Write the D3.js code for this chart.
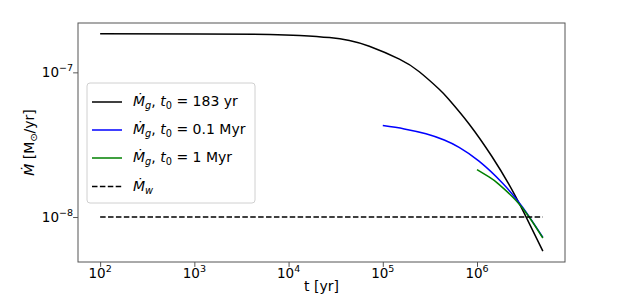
<!DOCTYPE html>
<html>
<head>
<meta charset="utf-8">
<script src="https://cdn.jsdelivr.net/npm/d3@7"></script>
<style>
body { margin: 0; background: #fff; }
svg { display: block; font-family: "DejaVu Sans", sans-serif; }
</style>
</head>
<body>
<svg id="chart" width="622" height="296"></svg>
<script>
// values (t in yr, Mdot in Msun/yr)
var tBlack = [1e2, 1.14e3, 6.28e3, 1.31e4, 2.72e4, 4.42e4, 7.19e4, 1.5e5, 2.44e5, 3.97e5, 5.06e5, 8.24e5, 1.44e6, 2.19e6, 3.15e6, 5e6];
var mBlack = [1.845e-7, 1.841e-7, 1.828e-7, 1.799e-7, 1.738e-7, 1.660e-7, 1.514e-7, 1.233e-7, 1.009e-7, 7.64e-8, 6.47e-8, 4.40e-8, 2.62e-8, 1.675e-8, 1.072e-8, 5.81e-9];
var tBlue = [1e5, 1.69e5, 2.87e5, 4.49e5, 6.46e5, 1.05e6, 1.86e6, 3.03e6, 5e6];
var mBlue = [4.285e-8, 4.064e-8, 3.758e-8, 3.404e-8, 3.027e-8, 2.432e-8, 1.718e-8, 1.175e-8, 7.23e-9];
var tGreen = [1e6, 1.34e6, 1.71e6, 2.58e6, 3.56e6, 5e6];
var mGreen = [2.128e-8, 1.892e-8, 1.683e-8, 1.306e-8, 1.005e-8, 7.16e-9];
var tWind = [1e2, 5e6];
var mWind = [1e-8, 1e-8];

var legendT0 = ['183 yr', '0.1 Myr', '1 Myr'];
var xMajor = [1e2, 1e3, 1e4, 1e5, 1e6];
var xExp = ['2', '3', '4', '5', '6'];
var yMajor = [1e-7, 1e-8];
var yExp = ['\u22127', '\u22128'];

var series = [
    { t: tBlack, m: mBlack, color: '#000000', dash: null },
    { t: tBlue, m: mBlue, color: '#0000ff', dash: null },
    { t: tGreen, m: mGreen, color: '#008000', dash: null },
    { t: tWind, m: mWind, color: '#000000', dash: '5.5,2.4' }
];

var plotL = 78, plotR = 565, plotT = 23, plotB = 262;
var svg = d3.select('#chart');

// 5% margins in log space, like matplotlib autoscale
function logPad(vals) {
    var lo = Math.log10(d3.min(vals)), hi = Math.log10(d3.max(vals));
    var pad = (hi - lo) * 0.05;
    return [Math.pow(10, lo - pad), Math.pow(10, hi + pad)];
}
var allT = [].concat(tBlack, tBlue, tGreen, tWind);
var allM = [].concat(mBlack, mBlue, mGreen, mWind);
var x = d3.scaleLog().domain(logPad(allT)).range([plotL, plotR]);
var y = d3.scaleLog().domain(logPad(allM)).range([plotB, plotT]);

function minorTicks(scale) {
    var d = scale.domain(), out = [];
    var k0 = Math.floor(Math.log10(d3.min(d))), k1 = Math.ceil(Math.log10(d3.max(d)));
    for (var k = k0; k <= k1; k++) {
        for (var j = 2; j <= 9; j++) {
            var v = j * Math.pow(10, k);
            if (v >= d3.min(d) && v <= d3.max(d)) out.push(v);
        }
    }
    return out;
}

svg.append('clipPath').attr('id', 'plotclip').append('rect')
    .attr('x', plotL).attr('y', plotT).attr('width', plotR - plotL).attr('height', plotB - plotT);

var line = d3.line()
    .x(function (d) { return x(d[0]); })
    .y(function (d) { return y(d[1]); })
    .curve(d3.curveNatural);

series.forEach(function (s) {
    var pts = s.t.map(function (t, i) { return [t, s.m[i]]; });
    svg.append('path')
        .attr('clip-path', 'url(#plotclip)')
        .attr('d', line(pts))
        .attr('fill', 'none')
        .attr('stroke', s.color)
        .attr('stroke-width', 1.5)
        .attr('stroke-dasharray', s.dash);
});

// axes
var gx = svg.append('g').attr('transform', 'translate(0,' + plotB + ')');
gx.call(d3.axisBottom(x).tickValues(minorTicks(x)).tickSize(2.8).tickFormat(''));
gx.call(d3.axisBottom(x).tickValues(xMajor).tickSize(4.9).tickFormat(''));
var gy = svg.append('g').attr('transform', 'translate(' + plotL + ',0)');
gy.call(d3.axisLeft(y).tickValues(minorTicks(y)).tickSize(2.8).tickFormat(''));
gy.call(d3.axisLeft(y).tickValues(yMajor).tickSize(4.9).tickFormat(''));
svg.selectAll('.domain').remove();
svg.selectAll('.tick line').attr('stroke', '#444').attr('stroke-width', 0.9);

xMajor.forEach(function (v, i) {
    var t = svg.append('text').attr('x', x(v)).attr('y', 278)
        .attr('text-anchor', 'middle').attr('font-size', 13.5).attr('fill', '#000');
    t.append('tspan').text('10');
    t.append('tspan').attr('font-size', 9.5).attr('dy', -6).text(xExp[i]);
});
yMajor.forEach(function (v, i) {
    var t = svg.append('text').attr('x', 73).attr('y', y(v) + 5)
        .attr('text-anchor', 'end').attr('font-size', 13.5).attr('fill', '#000');
    t.append('tspan').text('10');
    t.append('tspan').attr('font-size', 9.5).attr('dy', -6).text(yExp[i]);
});

// frame
svg.append('rect').attr('x', plotL).attr('y', plotT)
    .attr('width', plotR - plotL).attr('height', plotB - plotT)
    .attr('fill', 'none').attr('stroke', '#555').attr('stroke-width', 1);

// axis labels
svg.append('text').attr('x', (plotL + plotR) / 2).attr('y', 291)
    .attr('text-anchor', 'middle').attr('font-size', 14).text('t [yr]');
var yl = svg.append('text').attr('transform', 'translate(34,' + ((plotT + plotB) / 2) + ') rotate(-90)')
    .attr('text-anchor', 'middle').attr('font-size', 14);
yl.append('tspan').attr('font-style', 'italic').text('\u1E40');
yl.append('tspan').text(' [M');
yl.append('tspan').attr('font-size', 9.8).attr('dy', 3).text('\u2299');
yl.append('tspan').attr('dy', -3).text('/yr]');

// legend
var lg = svg.append('g');
lg.append('rect').attr('x', 87).attr('y', 83).attr('width', 168).attr('height', 120)
    .attr('rx', 3).attr('fill', '#fff').attr('fill-opacity', 0.8)
    .attr('stroke', '#d0d0d0').attr('stroke-width', 1);
var rowY = [102, 130, 158, 186.5];
series.forEach(function (s, i) {
    lg.append('line').attr('x1', 92).attr('x2', 122).attr('y1', rowY[i]).attr('y2', rowY[i])
        .attr('stroke', s.color).attr('stroke-width', 1.5).attr('stroke-dasharray', s.dash);
    var t = lg.append('text').attr('x', 133).attr('y', rowY[i] + 4).attr('font-size', 14);
    t.append('tspan').attr('font-style', 'italic').text('\u1E40');
    if (i < 3) {
        t.append('tspan').attr('font-style', 'italic').attr('font-size', 9.8).attr('dy', 3).text('g');
        t.append('tspan').attr('dy', -3).text(', ');
        t.append('tspan').attr('font-style', 'italic').text('t');
        t.append('tspan').attr('font-size', 9.8).attr('dy', 3).text('0');
        t.append('tspan').attr('dy', -3).text(' = ' + legendT0[i]);
    } else {
        t.append('tspan').attr('font-style', 'italic').attr('font-size', 9.8).attr('dy', 3).text('w');
    }
});
</script>
</body>
</html>
